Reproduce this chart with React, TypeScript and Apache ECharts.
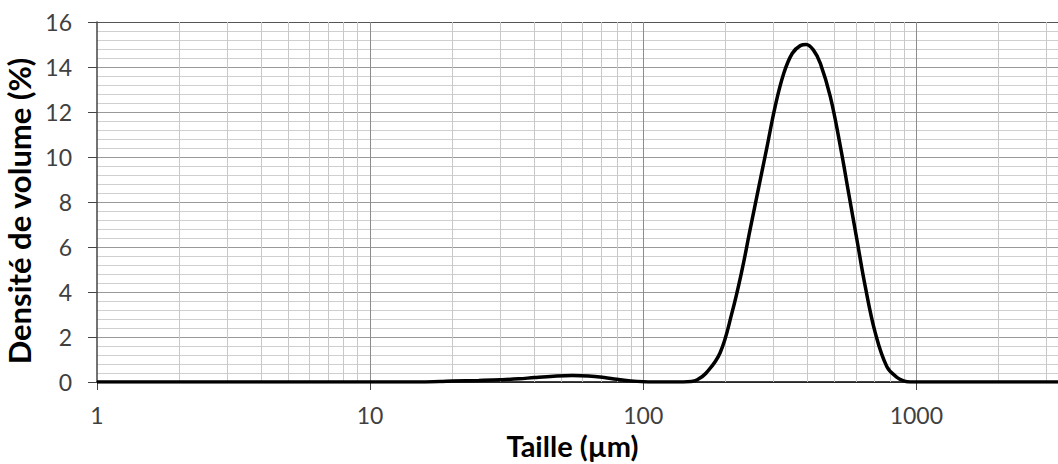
import React, { useEffect, useRef } from "react";
import * as echarts from "echarts";

const sizes: number[] = [
  1, 3, 10, 15, 18, 20, 25, 30, 35, 40, 47, 55, 63, 72, 80, 90, 100, 110, 140,
  150, 157, 170, 191, 211, 230, 246, 265, 284, 304, 327, 351, 376, 395, 420,
  445, 484, 527, 565, 606, 650, 708, 780, 850, 898, 950, 1000, 1200, 3300,
];
const density: number[] = [
  0, 0, 0, 0, 0.02, 0.04, 0.07, 0.1, 0.14, 0.2, 0.26, 0.29, 0.27, 0.2, 0.12,
  0.05, 0.01, 0, 0,
  0.02, 0.09, 0.4, 1.29, 3.05, 4.98, 6.76, 8.68, 10.46, 12.24, 13.72, 14.6,
  14.95, 15.0, 14.75, 14.16, 12.68, 10.46, 8.39, 6.31, 4.24, 2.16, 0.68, 0.2,
  0.05, 0, 0, 0, 0,
];
const xTickLabels: number[] = [1, 10, 100, 1000];
const majorGridX: number[] = [10, 100, 1000];
const minorGridX: number[] = [
  2, 3, 4, 5, 6, 7, 8, 9, 20, 30, 40, 50, 60, 70, 80, 90, 200, 300, 400, 500,
  600, 700, 800, 900, 2000, 3000,
];

const FONT = "Lato, 'Open Sans', sans-serif";

export default function App() {
  const ref = useRef<HTMLDivElement>(null);
  useEffect(() => {
    document.body.style.margin = "0";
    if (!ref.current) return;
    const chart = echarts.init(ref.current, null, { renderer: "svg" });
    const data = sizes.map((s, i) => [s, density[i]]);
    const gridLine = (v: number, color: string) => ({
      xAxis: v,
      lineStyle: { color, width: 1, type: "solid" },
    });
    chart.setOption({
      animation: false,
      backgroundColor: "#ffffff",
      grid: {
        left: 97,
        right: 0,
        top: 22,
        bottom: 82,
        containLabel: false,
        outerBoundsMode: "none",
      },
      xAxis: {
        type: "log",
        logBase: 10,
        min: 1,
        max: 3300,
        name: "Taille (µm)",
        nameLocation: "middle",
        nameGap: 45,
        nameTextStyle: { fontFamily: FONT, fontSize: 29, fontWeight: "bold", color: "#000", padding: [0, 10, 0, 0] },
        axisLine: { show: true, onZero: false, lineStyle: { color: "#000", width: 1.5 } },
        axisTick: { show: true, length: 8, inside: false, lineStyle: { color: "#444" } },
        axisLabel: {
          fontFamily: FONT,
          fontSize: 23,
          color: "#404040",
          margin: 21,
          showMaxLabel: false,
          formatter: (v: number) =>
            xTickLabels.includes(Math.round(v)) ? String(Math.round(v)) : "",
        },
        splitLine: { show: false },
      },
      yAxis: {
        type: "value",
        min: 0,
        max: 16,
        interval: 2,
        name: "Densité de volume (%)",
        nameLocation: "middle",
        nameGap: 52,
        nameTextStyle: {
          fontFamily: FONT,
          fontSize: 31,
          fontWeight: "bold",
          color: "#000",
          padding: [0, 18, 0, 0],
        },
        axisLine: { show: true, lineStyle: { color: "#444", width: 1.5 } },
        axisTick: { show: true, length: 9, lineStyle: { color: "#444" } },
        axisLabel: { fontFamily: FONT, fontSize: 23, color: "#404040", margin: 25 },
        splitLine: {
          show: true,
          lineStyle: {
            color: ["#999", "#999", "#999", "#999", "#999", "#999", "#999", "#999", "#555"],
            width: 1,
          },
        },
        minorTick: { show: false, splitNumber: 5 },
        minorSplitLine: { show: true, lineStyle: { color: "#cfcfcf", width: 1 } },
      },
      series: [
        {
          type: "line",
          data: [],
          silent: true,
          z: 1,
          markLine: {
            silent: true,
            symbol: ["none", "none"],
            label: { show: false },
            animation: false,
            data: [
              ...minorGridX.map((v) => gridLine(v, "#c8c8c8")),
              ...majorGridX.map((v) => gridLine(v, "#8c8c8c")),
            ],
          },
        },
        {
          type: "line",
          data,
          z: 5,
          smooth: 0.4,
          showSymbol: false,
          symbol: "none",
          lineStyle: { color: "#000", width: 3.5 },
          clip: true,
        },
      ],
    });
    return () => chart.dispose();
  }, []);
  return <div ref={ref} style={{ width: 1058, height: 464 }} />;
}
